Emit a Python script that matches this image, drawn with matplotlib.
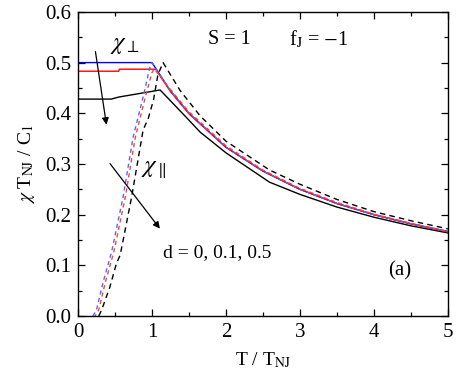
import matplotlib
matplotlib.use("Agg")
import matplotlib.pyplot as plt
from matplotlib.ticker import MultipleLocator

plt.rcParams['font.family'] = ['Liberation Serif', 'DejaVu Serif']
plt.rcParams['mathtext.fontset'] = 'stix'

# ---- data ----
# perpendicular susceptibility (solid)
t_perp_d0 = [0.0, 1.0, 1.25, 1.5, 2.0, 2.5, 3.0, 3.5, 4.0, 4.5, 5.0]
chi_perp_d0 = [0.500, 0.500, 0.444, 0.400, 0.333, 0.286, 0.250, 0.222, 0.200, 0.182, 0.167]

t_perp_d01 = [0.0, 0.55, 0.56, 1.05, 1.25, 1.5, 2.0, 2.5, 3.0, 3.5, 4.0, 4.5, 5.0]
chi_perp_d01 = [0.483, 0.483, 0.487, 0.487, 0.443, 0.399, 0.333, 0.286, 0.250, 0.222, 0.200, 0.182, 0.166]

t_perp_d05 = [0.0, 0.45, 0.55, 1.11, 1.47, 1.65, 2.0, 2.59, 3.0, 3.5, 4.0, 4.5, 5.0]
chi_perp_d05 = [0.428, 0.428, 0.432, 0.446, 0.391, 0.363, 0.322, 0.264, 0.240, 0.215, 0.195, 0.178, 0.164]

# parallel susceptibility (dashed)
t_par_d0 = [0.20, 0.25, 0.34, 0.455, 0.61, 0.745, 0.88, 0.97, 1.0, 1.25, 1.5, 2.0, 2.5, 3.0, 3.5, 4.0, 4.5, 5.0]
chi_par_d0 = [0.0, 0.012, 0.067, 0.127, 0.235, 0.353, 0.432, 0.490, 0.500, 0.444, 0.400, 0.333, 0.286, 0.250, 0.222, 0.200, 0.182, 0.167]

t_par_d01 = [0.23, 0.28, 0.37, 0.485, 0.64, 0.775, 0.91, 1.0, 1.03, 1.25, 1.5, 2.0, 2.5, 3.0, 3.5, 4.0, 4.5, 5.0]
chi_par_d01 = [0.0, 0.012, 0.067, 0.127, 0.235, 0.353, 0.432, 0.480, 0.488, 0.447, 0.403, 0.336, 0.288, 0.252, 0.224, 0.201, 0.183, 0.167]

t_par_d05 = [0.28, 0.32, 0.43, 0.52, 0.57, 0.725, 0.88, 0.95, 1.02, 1.08, 1.15, 1.38, 1.65, 2.0, 2.59, 3.0, 3.5, 4.0, 4.5, 5.0]
chi_par_d05 = [0.0, 0.012, 0.057, 0.104, 0.120, 0.235, 0.367, 0.390, 0.426, 0.476, 0.500, 0.445, 0.395, 0.345, 0.288, 0.260, 0.230, 0.206, 0.188, 0.172]

x_ticks = [0, 1, 2, 3, 4, 5]
y_ticks = [0.0, 0.1, 0.2, 0.3, 0.4, 0.5, 0.6]

# ---- figure ----
fig = plt.figure(figsize=(4.57, 3.84), dpi=100)
ax = fig.add_axes([0.1707, 0.177, 0.8093, 0.792])

lw = 1.0
ax.plot(t_par_d05, chi_par_d05, color='black', ls=(0, (4, 3)), lw=lw)
ax.plot(t_perp_d05, chi_perp_d05, color='black', lw=lw)
ax.plot(t_perp_d0, chi_perp_d0, color='#0000ff', lw=lw)
ax.plot(t_perp_d01, chi_perp_d01, color='#ff0000', lw=lw)
ax.plot(t_par_d0, chi_par_d0, color='#4d6bff', ls=(0, (3, 2.5)), lw=lw)
ax.plot(t_par_d01, chi_par_d01, color='#ff4040', ls=(1.5, (3, 2.5)), lw=lw)

ax.set_xlim(0, 5)
ax.set_ylim(0, 0.6)
ax.set_xticks(x_ticks)
ax.set_xticklabels([str(v) for v in x_ticks])
ax.set_yticks(y_ticks)
ax.set_yticklabels([f"{v:.1f}" for v in y_ticks])
ax.xaxis.set_minor_locator(MultipleLocator(0.5))
ax.yaxis.set_minor_locator(MultipleLocator(0.05))
ax.tick_params(which='both', direction='in', top=True, right=True, labelsize=15)
ax.tick_params(which='major', length=5, width=0.9, pad=5)
ax.tick_params(which='minor', length=3, width=0.9)
for s in ax.spines.values():
    s.set_linewidth(1.0)

ax.set_xlabel(r'T / T$_{\rm NJ}$', fontsize=14, labelpad=6)
ax.set_ylabel(r'$\chi$ T$_{\rm NJ}$ / C$_1$', fontsize=14, labelpad=6)

ax.text(0.63, 0.535, r'$\chi_{\perp}$', fontsize=18, ha='center', va='center')
ax.text(1.03, 0.29, r'$\chi_{\parallel}$', fontsize=18, ha='center', va='center')
ax.annotate('', xy=(0.39, 0.372), xytext=(0.23, 0.527),
            arrowprops=dict(arrowstyle='-|>', color='black', lw=0.9, mutation_scale=10))
ax.annotate('', xy=(1.13, 0.168), xytext=(0.41, 0.305),
            arrowprops=dict(arrowstyle='-|>', color='black', lw=0.9, mutation_scale=10))
ax.text(1.15, 0.126, 'd = 0, 0.1, 0.5', fontsize=14, ha='left', va='center')
ax.text(4.35, 0.089, '(a)', fontsize=15, ha='center', va='center')
ax.text(1.76, 0.545, 'S = 1', fontsize=14.5, ha='left', va='center')
ax.text(2.85, 0.545, r'f$_{\rm J}$ = $-$1', fontsize=14.5, ha='left', va='center')

fig.savefig('out.png', dpi=100)
